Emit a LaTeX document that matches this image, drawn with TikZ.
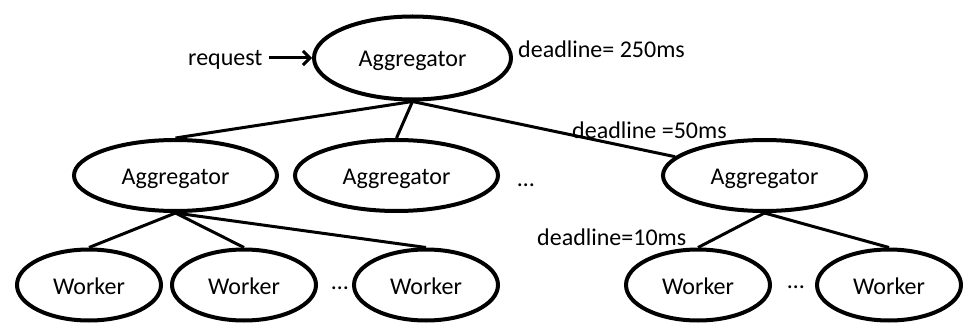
\documentclass[tikz,border=0pt]{standalone}
\usepackage{fontspec}
\setmainfont{Carlito}
\usepackage{tikz}
\usetikzlibrary{shapes.geometric}
\usetikzlibrary{arrows.meta}
\usetikzlibrary{positioning}
\tikzset{
    treenode/.style={
        ellipse,
        draw,
        line width=4pt,
        font=\fontsize{24}{28}\selectfont,
        text height=19pt,
        text depth=1pt,
        inner sep=2pt
    },
    rootnode/.style={treenode, minimum width=197pt, minimum height=83pt},
    aggnode/.style={treenode, minimum width=203pt, minimum height=71pt},
    workernode/.style={treenode, minimum width=144pt, minimum height=71pt},
    deadlinetext/.style={
        font=\fontsize{24}{28}\selectfont,
        inner sep=0pt
    },
    treeedge/.style={line width=3pt}
}

\begin{document}
\begin{tikzpicture}[x=1pt,y=1pt]
\useasboundingbox (0,0) rectangle (963,-323);
% 节点
\node[rootnode] (root) at (412.5,-58) {Aggregator};
\node[aggnode] (agg1) at (175.5,-175.5) {Aggregator};
\node[aggnode] (agg2) [right=14pt of agg1] {Aggregator};
\node[aggnode] (agg3) [right=161pt of agg2] {Aggregator};
\node[workernode] (w1) at (89,-285) {Worker};
\node[workernode] (w2) [right=7pt of w1] {Worker};
\node[workernode] (w3) [right=34pt of w2] {Worker};
\node[workernode] (w4) at (698,-285) {Worker};
\node[workernode] (w5) [right=43pt of w4] {Worker};

% 省略号
\node[deadlinetext] (dots1) at (526,-185) {…};
\node[deadlinetext] (dots2) at (340,-288) {…};
\node[deadlinetext] (dots3) at (796,-287) {…};

% 文字
\node[deadlinetext, anchor=west] (req) at (188,-60) {request};
\node[deadlinetext, anchor=west] (dl1) at (518,-49) {deadline= 250ms};
\node[deadlinetext, anchor=west] (dl2) at (572,-130) {deadline =50ms};
\node[deadlinetext, anchor=west] (dl3) at (537,-237) {deadline=10ms};

% 连线
\draw[treeedge, -{Straight Barb[length=7pt,width=14pt]}] ([shift={(6pt,2pt)}]req.east) -- (root.west);
\draw[treeedge] (root.south) -- (agg1.north);
\draw[treeedge] (root.south) -- (agg2.north);
\draw[treeedge] (root.south) -- (agg3);
\draw[treeedge] (agg1.south) -- (w1.north);
\draw[treeedge] (agg1.south) -- (w2.north);
\draw[treeedge] (agg1.south) -- (w3.north);
\draw[treeedge] (agg3.south) -- (w4.north);
\draw[treeedge] (agg3.south) -- (w5.north);
\end{tikzpicture}
\end{document}
